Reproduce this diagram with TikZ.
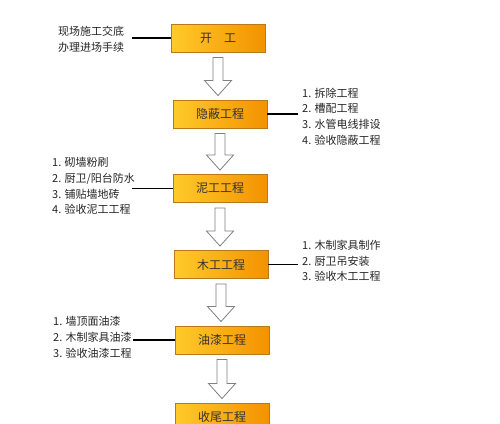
\documentclass[tikz,border=0pt]{standalone}
\usepackage{fontspec}
\setmainfont{Noto Sans CJK SC}
\usetikzlibrary{calc}
\definecolor{boxL}{HTML}{FFCA2A}
\definecolor{boxR}{HTML}{F39200}
\definecolor{boxB}{HTML}{B8791A}
\tikzset{
  stage/.style={draw=boxB, line width=0.9pt, left color=boxL, right color=boxR,
    minimum width=94pt, minimum height=28pt, inner sep=0pt,
    font=\fontsize{12}{14}\selectfont, text=black!80},
  note/.style={align=left, inner sep=0pt, font=\fontsize{11}{15.7}\selectfont, text=black!85},
  link/.style={line width=1.4pt, black},
  hollow/.style={draw=black!50, fill=white, line width=0.8pt, line join=miter},
}
\newcommand\hollowarrow[2]{%
  \path (#1.south) coordinate (ha-top) (#2.north) coordinate (ha-bot);
  \draw[hollow] let \p1=(ha-top), \p2=(ha-bot) in
    (\x1-5pt,\y1-5pt) -- (\x1+5pt,\y1-5pt) -- (\x1+5pt,\y2+19pt) --
    (\x1+13.5pt,\y2+19pt) -- (\x1,\y2+4pt) -- (\x1-13.5pt,\y2+19pt) --
    (\x1-5pt,\y2+19pt) -- cycle;}
\begin{document}
\begin{tikzpicture}[x=1pt,y=-1pt]
\useasboundingbox (0,0) rectangle (500,423);
\fill[white] (0,0) rectangle (500,423);

\node[stage] (s1) at (218,38) {开\quad 工};
\node[stage] (s2) at (220,114) {隐蔽工程};
\node[stage] (s3) at (220,188.5) {泥工工程};
\node[stage] (s4) at (221,264.5) {木工工程};
\node[stage] (s5) at (222,340) {油漆工程};
\node[stage] (s6) at (222,417) {收尾工程};

\node[note, anchor=west] (n1) at (58,39.5) {现场施工交底\\办理进场手续};
\node[note, anchor=west] (n2) at (302,116.5) {1. 拆除工程\\2. 槽配工程\\3. 水管电线排设\\4. 验收隐蔽工程};
\node[note, anchor=west] (n3) at (52,186) {1. 砌墙粉刷\\2. 厨卫/阳台防水\\3. 铺贴墙地砖\\4. 验收泥工工程};
\node[note, anchor=west] (n4) at (302,261) {1. 木制家具制作\\2. 厨卫吊安装\\3. 验收木工工程};
\node[note, anchor=west] (n5) at (53,337.5) {1. 墙顶面油漆\\2. 木制家具油漆\\3. 验收油漆工程};

\coordinate (e1) at (132,38);
\coordinate (e2) at (298,114);
\coordinate (e3) at (132,188.5);
\coordinate (e4) at (298,264.5);
\coordinate (e5) at (133,340);

\draw[link] (s1.west) -- (e1);
\draw[link] (s2.east) -- (e2);
\draw[link] (s3.west) -- (e3);
\draw[link] (s4.east) -- (e4);
\draw[link] (s5.west) -- (e5);

\hollowarrow{s1}{s2}
\hollowarrow{s2}{s3}
\hollowarrow{s3}{s4}
\hollowarrow{s4}{s5}
\hollowarrow{s5}{s6}
\end{tikzpicture}
\end{document}
